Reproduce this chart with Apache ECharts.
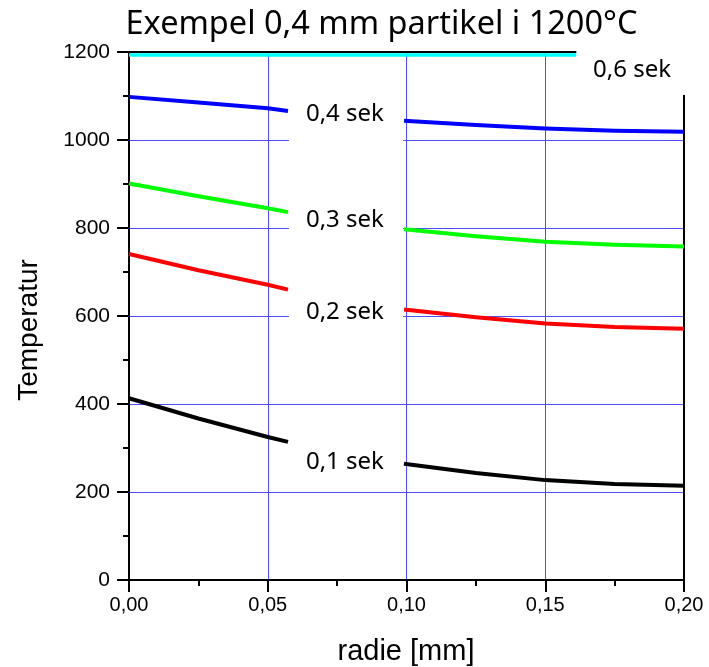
<!DOCTYPE html>
<html>
<head>
<meta charset="utf-8">
<script src="https://cdn.jsdelivr.net/npm/echarts@6/dist/echarts.min.js"></script>
<style>html,body{margin:0;padding:0;background:#fff}#c{width:709px;height:667px}</style>
</head>
<body>
<div id="c"></div>
<script>
// radius points [mm]; the curves are interrupted between index 3 and 4
const radius = [0, 0.025, 0.05, 0.0573, 0.0991, 0.125, 0.15, 0.175, 0.2];
const breakAfter = 3;
const temp01 = [413, 367, 325, 314, 264, 243, 227, 218, 214];
const temp02 = [741, 704, 671, 660, 615, 597, 583, 575, 571];
const temp03 = [901, 872, 845, 836, 797, 781, 769, 762, 758];
const temp04 = [1098, 1085, 1072, 1066, 1044, 1034, 1026, 1021, 1019];
const radius06 = [0, 0.1612];
const temp06 = [1193, 1193];

const seriesNames = ['0,1 sek', '0,2 sek', '0,3 sek', '0,4 sek', '0,6 sek'];
const seriesColors = ['#000000', '#ff0000', '#00ff00', '#0000ff', '#00ffff'];
// label anchors in data units
const labelX = [0.0778, 0.0778, 0.0778, 0.0778, 0.1813];
const labelY = [267, 608, 818, 1058, 1159];

const titleText = 'Exempel 0,4 mm partikel i 1200°C';
const xName = 'radie [mm]';
const yName = 'Temperatur';

function pairs(xs, ys, brk) {
  const out = [];
  for (let i = 0; i < xs.length; i++) {
    out.push([xs[i], ys[i]]);
    if (brk !== undefined && i === brk) out.push([(xs[i] + xs[i + 1]) / 2, '-']);
  }
  return out;
}

const chart = echarts.init(document.getElementById('c'));
const fmtX = v => v.toFixed(2).replace('.', ',');
const fmtY = v => String(v);
const blk = {color: '#000', width: 2};
const gridBlue = {color: '#4d4dff', width: 1};

const lineSeries = [temp01, temp02, temp03, temp04].map((d, i) => ({
  name: seriesNames[i], type: 'line', data: pairs(radius, d, breakAfter),
  showSymbol: false, smooth: false, connectNulls: false,
  lineStyle: {color: seriesColors[i], width: 4, join: 'round'}, itemStyle: {color: seriesColors[i]}, z: 2
}));
lineSeries.push({
  name: seriesNames[4], type: 'line', data: pairs(radius06, temp06),
  showSymbol: false, lineStyle: {color: seriesColors[4], width: 3.5}, z: 2
});

const option = {
  animation: false,
  backgroundColor: '#fff',
  grid: {left: 129, right: 25, top: 52, bottom: 87},
  xAxis: [{
    type: 'value', min: 0, max: 0.2, interval: 0.05, position: 'bottom',
    axisLine: {onZero: false, lineStyle: blk},
    axisTick: {length: 12, lineStyle: blk},
    minorTick: {show: true, splitNumber: 2, length: 6, lineStyle: blk},
    axisLabel: {color: '#000', fontFamily: 'Liberation Sans', fontSize: 20, margin: 15, formatter: fmtX},
    splitLine: {show: true, showMinLine: false, showMaxLine: false, lineStyle: gridBlue}
  }, {
    type: 'value', min: 0, max: 0.2, position: 'top',
    axisLine: {show: true, onZero: false, lineStyle: blk},
    axisTick: {show: false}, axisLabel: {show: false}, splitLine: {show: false}
  }],
  yAxis: [{
    type: 'value', min: 0, max: 1200, interval: 200, position: 'left',
    axisLine: {show: true, onZero: false, lineStyle: blk},
    axisTick: {show: true, length: 12, lineStyle: blk},
    minorTick: {show: true, splitNumber: 2, length: 6, lineStyle: blk},
    axisLabel: {color: '#000', fontFamily: 'Liberation Sans', fontSize: 21, margin: 19, formatter: fmtY},
    splitLine: {show: true, showMinLine: false, showMaxLine: false, lineStyle: gridBlue}
  }, {
    type: 'value', min: 0, max: 1200, position: 'right',
    axisLine: {show: true, onZero: false, lineStyle: blk},
    axisTick: {show: false}, axisLabel: {show: false}, splitLine: {show: false}
  }],
  series: lineSeries
};
chart.setOption(option);

const px = p => chart.convertToPixel({xAxisIndex: 0, yAxisIndex: 0}, p);
const g = [];
// white box behind the inline labels (hides grid lines in the gap)
const a = px([0.0576, 1150]), b = px([0.0988, 560]);
g.push({type: 'rect', z: 3, silent: true, shape: {x: a[0], y: a[1], width: b[0] - a[0], height: b[1] - a[1]}, style: {fill: '#fff'}});
// white box in the upper-right corner (behind "0,6 sek")
const c = px([0.1612, 1102]);
g.push({type: 'rect', z: 3, silent: true, shape: {x: c[0], y: 0, width: chart.getWidth() - c[0], height: c[1]}, style: {fill: '#fff'}});
for (let i = 0; i < seriesNames.length; i++) {
  const p = px([labelX[i], labelY[i]]);
  g.push({type: 'text', z: 4, silent: true, x: p[0], y: p[1],
    style: {text: seriesNames[i], font: '24px "Noto Sans"', fill: '#000', textAlign: 'center', textVerticalAlign: 'middle'}});
}
g.push({type: 'text', z: 10, silent: true, x: 381.5, y: 25,
  style: {text: titleText, font: '32.5px "Noto Sans"', fill: '#000', textAlign: 'center', textVerticalAlign: 'middle'}});
g.push({type: 'text', z: 10, silent: true, x: 406, y: 652,
  style: {text: xName, font: '29px "Liberation Sans"', fill: '#000', textAlign: 'center', textVerticalAlign: 'middle'}});
g.push({type: 'text', z: 10, silent: true, x: 29, y: 330, rotation: Math.PI / 2,
  style: {text: yName, font: '28px "Liberation Sans"', fill: '#000', textAlign: 'center', textVerticalAlign: 'middle'}});
chart.setOption({graphic: {elements: g}});
</script>
</body>
</html>
